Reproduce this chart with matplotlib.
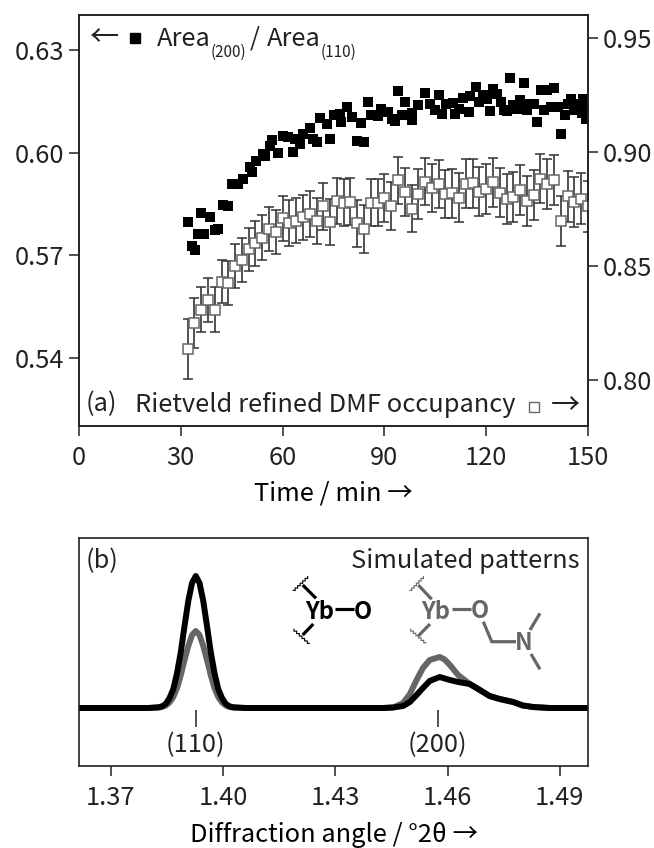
import matplotlib
matplotlib.use("Agg")
import matplotlib.pyplot as plt

plt.rcParams['font.family'] = ['Noto Sans CJK JP', 'DejaVu Sans']
plt.rcParams['font.size'] = 18.3

# area ratio, left axis
t_area = [32.0, 33.4, 34.2, 35.0, 36.9, 36.1, 38.6, 40.1, 41.1, 42.5, 43.8, 45.0, 47.0, 48.4, 50.4,
          51.1, 52.3, 54.3, 54.8, 56.3, 57.0, 58.7, 60.2, 61.7, 63.2, 63.6, 65.1, 66.1, 68.1, 69.1,
          70.0, 71.0, 73.0, 74.0, 75.0, 76.9, 77.1, 79.1, 80.4, 82.0, 84.1, 83.0, 85.1, 86.0, 88.0,
          89.0, 91.2, 92.1, 93.1, 94.1, 95.1, 96.1, 98.0, 98.2, 100.0, 102.0, 103.4, 104.9, 106.1, 106.9,
          108.3, 110.3, 110.8, 112.1, 113.3, 115.0, 115.2, 117.0, 118.0, 119.2, 120.3, 121.0, 122.1, 123.3, 124.3,
          125.1, 126.2, 127.0, 128.0, 129.0, 130.0, 131.0, 132.0, 133.0, 134.2, 135.1, 136.1, 137.1, 138.0, 139.1,
          140.1, 141.1, 142.0, 143.1, 144.1, 145.0, 146.0, 147.1, 148.6, 148.1, 149.4, 150.0]
area = [.5797, .5728, .5716, .5762, .5762, .5824, .5813, .5774, .5777, .5847, .5843, .5908, .5908, .5923, .5957,
        .5944, .5976, .5996, .5989, .6020, .6037, .5999, .6047, .6045, .6003, .6040, .6025, .6054, .6072, .6039,
        .6030, .6100, .6083, .6041, .6109, .6114, .6088, .6134, .6103, .6034, .6032, .6085, .6149, .6109, .6107,
        .6127, .6120, .6098, .6091, .6179, .6110, .6149, .6096, .6117, .6140, .6173, .6142, .6124, .6169, .6112,
        .6142, .6146, .6112, .6127, .6159, .6118, .6166, .6192, .6149, .6169, .6156, .6122, .6185, .6171, .6149,
        .6124, .6122, .6218, .6139, .6127, .6153, .6203, .6125, .6142, .6142, .6090, .6184, .6124, .6182, .6134,
        .6188, .6134, .6055, .6109, .6142, .6156, .6124, .6142, .6156, .6117, .6098, .6132]

# occupancy, right axis
t_occ = [32, 34, 36, 38, 40, 42, 44, 46, 48, 50, 52, 54, 56, 58, 60, 62, 64, 66, 68, 70,
         72, 74, 76, 78, 80, 82, 84, 86, 88, 90, 92, 94, 96, 98, 100, 102, 104, 106, 108, 110,
         112, 114, 116, 118, 120, 122, 124, 126, 128, 130, 132, 134, 136, 138, 140, 142, 144, 146, 148, 150]
occ = [.8135, .8248, .8309, .8350, .8309, .8431, .8426, .8500, .8526, .8573, .8599, .8624, .8662, .8650, .8709,
       .8690, .8698, .8713, .8726, .8698, .8761, .8692, .8785, .8778, .8782, .8687, .8663, .8778, .8778, .8797,
       .8764, .8875, .8826, .8752, .8816, .8870, .8841, .8859, .8816, .8819, .8799, .8861, .8863, .8826, .8837,
       .8867, .8822, .8793, .8802, .8832, .8784, .8813, .8883, .8860, .8879, .8699, .8806, .8781, .8796, .8761]
occ_err = [.0132, .0110, .0097, .0097, .0097, .0095, .0097, .0095, .0096, .0095, .0098, .0098, .0098, .0096, .0098,
           .0101, .0099, .0099, .0101, .0101, .0102, .0101, .0102, .0102, .0104, .0102, .0105, .0104, .0104, .0105,
           .0105, .0105, .0105, .0105, .0108, .0104, .0105, .0105, .0107, .0108, .0107, .0107, .0107, .0108, .0110,
           .0108, .0108, .0110, .0110, .0110, .0110, .0110, .0108, .0110, .0110, .0110, .0111, .0111, .0110, .0110]

# simulated patterns, height above baseline
angle = [1.3615, 1.3800, 1.3827, 1.3837, 1.3847, 1.3857, 1.3867, 1.3877, 1.3887, 1.3897, 1.3907, 1.3917,
         1.3927, 1.3937, 1.3947, 1.3957, 1.3967, 1.3977, 1.3987, 1.3997, 1.4007, 1.4017, 1.4027, 1.4060, 1.4200,
         1.4428, 1.4454, 1.4481, 1.4499, 1.4517, 1.4534, 1.4552, 1.4565, 1.4579, 1.4592, 1.4606, 1.4628, 1.4659,
         1.4686, 1.4712, 1.4739, 1.4775, 1.4801, 1.4828, 1.4873, 1.4975]
black = [0, 0, .7, 1.7, 4.2, 10, 19, 35, 56, 82, 107, 125,
         132, 125, 107, 82, 56, 35, 19, 10, 4.2, 1.7, .7, 0, 0,
         0, .5, 2, 6, 13, 20, 27, 29, 31, 29.5, 28, 26, 24,
         18, 12, 9, 6, 2.5, 1, 0, 0]
gray = [0, 0, .4, 1, 2.5, 5.6, 11, 20, 33, 48, 62, 73,
        77, 73, 62, 48, 33, 20, 11, 5.6, 2.5, 1, .4, 0, 0,
        0, .5, 5, 14, 28, 40, 48, 49.5, 51, 48.5, 43, 33, 24,
        18, 12, 9, 6, 2.5, 1, 0, 0]
peaks = [1.3927, 1.4574]
peak_labels = ["(110)", "(200)"]

W, H = 654, 848
fig = plt.figure(figsize=(W / 100, H / 100), dpi=100)


def box(l, t, r, b):
    return [l / W, 1 - b / H, (r - l) / W, (b - t) / H]


dark = "#222222"
mid = "#666666"

# panel (a)
ax = fig.add_axes(box(79, 15, 588, 426))
ax.scatter(t_area, area, marker='s', s=56, color='black', linewidths=0, clip_on=True)
ax.set_xlim(0, 150)
ax.set_ylim(0.5201, 0.6402)
ax.set_xticks([0, 30, 60, 90, 120, 150])
ax.set_yticks([0.54, 0.57, 0.60, 0.63])
ax.set_yticklabels(["0.54", "0.57", "0.60", "0.63"])
ax.set_xlabel("Time / min →", labelpad=7)

ax2 = ax.twinx()
ax2.errorbar(t_occ, occ, yerr=occ_err, fmt='s', ms=7.3, mfc='white', mec=mid, mew=1.1,
             ecolor="#333333", elinewidth=1.2, capsize=3.6, capthick=1.2)
ax2.set_ylim(0.7798, 0.9601)
ax2.set_yticks([0.80, 0.85, 0.90, 0.95])
ax2.set_yticklabels(["0.80", "0.85", "0.90", "0.95"])

# panel (b)
bx = fig.add_axes(box(79, 538, 588, 766))
bx.plot(angle, gray, color=mid, lw=4.3, solid_joinstyle='round')
bx.plot(angle, black, color='black', lw=4.3, solid_joinstyle='round')
bx.vlines(peaks, -19, -2, color=dark, lw=1.1)
for p, lab in zip(peaks, peak_labels):
    bx.text(p, -24, lab, ha='center', va='top', color=dark)
bx.set_xlim(1.3615, 1.4975)
bx.set_ylim(-58, 170)
bx.set_xticks([1.37, 1.40, 1.43, 1.46, 1.49])
bx.set_xticklabels(["1.37", "1.40", "1.43", "1.46", "1.49"])
bx.set_yticks([])
bx.set_xlabel("Diffraction angle / °2θ →", labelpad=8)

for a in (ax, ax2, bx):
    for s in a.spines.values():
        s.set_linewidth(1.2)
        s.set_color(dark)
    a.tick_params(length=7, width=1.1, color=dark, labelcolor=dark)
    a.tick_params(axis='x', pad=6.5)
    a.tick_params(axis='y', pad=3.5)

# overlay in pixel coordinates for labels and the little structures
ov = fig.add_axes([0, 0, 1, 1])
ov.set_xlim(0, W)
ov.set_ylim(H, 0)
ov.axis('off')
ov.patch.set_alpha(0)

ov.text(105, 38, "←", ha='center', va='center', color=dark, fontsize=21)
ov.plot([135], [38], 's', ms=6.5, color='black')
ov.text(157, 39, "Area", va='center', color=dark)
ov.text(211, 52, "(200)", va='center', color=dark, fontsize=11)
ov.text(250, 39, "/", va='center', color=dark)
ov.text(267, 39, "Area", va='center', color=dark)
ov.text(321, 52, "(110)", va='center', color=dark, fontsize=11)

ov.text(86, 404, "(a)", va='center', color=dark)
ov.text(135, 405, "Rietveld refined DMF occupancy", va='center', color=dark)
ov.plot([534], [407], 's', ms=6.5, mfc='white', mec=mid, mew=1.0)
ov.text(565, 406, "→", ha='center', va='center', color=dark, fontsize=21)

ov.text(86, 561, "(b)", va='center', color=dark)
ov.text(580, 561, "Simulated patterns", ha='right', va='center', color=dark)


def bond(pts, color, lw=2.3):
    ov.plot([p[0] for p in pts], [p[1] for p in pts], color=color, lw=lw, solid_capstyle='butt')


def wavy(x0, y0, x1, y1, color):
    # hand drawn zigzag for the cut bond
    n = 12
    pts = []
    for i in range(n + 1):
        f = i / n
        off = 1.0 if i % 2 else -1.0
        dx, dy = x1 - x0, y1 - y0
        ln = (dx * dx + dy * dy) ** 0.5
        pts.append((x0 + dx * f - dy / ln * off, y0 + dy * f + dx / ln * off))
    bond(pts, color, lw=0.8)


# Yb-O
ov.text(320, 612, "Yb", ha='center', va='center', fontsize=17, fontweight='bold', color='black')
ov.text(363, 612, "O", ha='center', va='center', fontsize=17, fontweight='bold', color='black')
bond([(335, 609), (354, 609)], 'black')
bond([(316, 598.3), (302.7, 585)], 'black')
bond([(313.3, 624), (302.7, 635)], 'black')
wavy(293.3, 591, 308.3, 576.7, 'black')
wavy(293.3, 629.3, 309.3, 644, 'black')

# Yb-O-CH2-NMe2
ov.text(435.7, 612, "Yb", ha='center', va='center', fontsize=17, fontweight='bold', color=mid)
ov.text(480, 611, "O", ha='center', va='center', fontsize=17, fontweight='bold', color=mid)
ov.text(523.3, 642.5, "N", ha='center', va='center', fontsize=17, fontweight='bold', color=mid)
bond([(451.7, 609), (470.7, 609)], mid)
bond([(431.7, 599.3), (418.3, 585)], mid)
bond([(430, 624), (418.3, 636)], mid)
wavy(410, 591, 424, 576.7, mid)
wavy(410, 629.3, 425.7, 643.3, mid)
bond([(483.3, 621.7), (491.7, 641.7), (516, 641.7)], mid)
bond([(530, 630), (540, 613.3)], mid)
bond([(531, 654), (540, 669.3)], mid)

fig.savefig("out.png", dpi=100)
